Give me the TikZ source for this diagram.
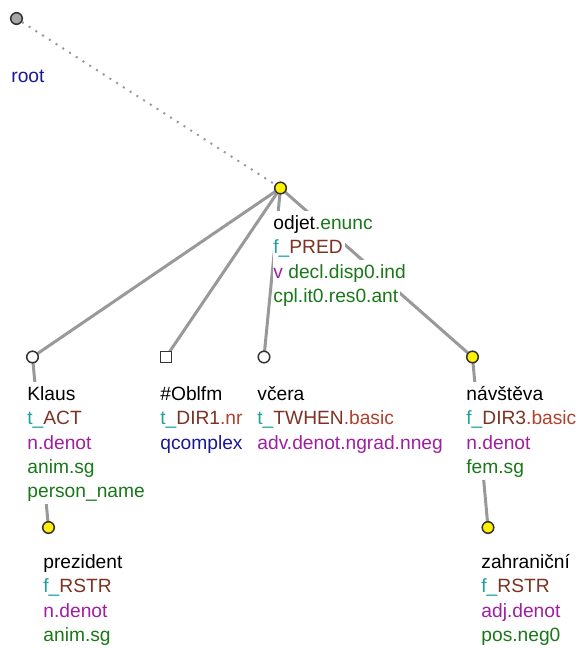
\documentclass[tikz,border=0pt]{standalone}
\usepackage{fontspec}
\setmainfont{Liberation Sans}
\usepackage{xcolor}
\usepackage{tikz}
\usetikzlibrary{shapes,positioning,backgrounds}

\definecolor{cteal}{RGB}{30,160,160}
\definecolor{cbrown}{RGB}{125,50,35}
\definecolor{cred}{RGB}{175,65,45}
\definecolor{cpurple}{RGB}{160,30,160}
\definecolor{cgreen}{RGB}{25,120,25}
\definecolor{cnavy}{RGB}{25,25,150}

% one line of a node label, white behind it
\newcommand{\row}[1]{{\setlength{\fboxsep}{0pt}\colorbox{white}{\rule[-3.3pt]{0pt}{12.2pt}#1\kern1pt}}}
\newcommand{\fnc}[3]{\textcolor{cteal}{#1\_}\textcolor{cbrown}{#2}\textcolor{cred}{#3}}

\begin{document}
\begin{tikzpicture}[
    x=0.5pt, y=-0.5pt,
    tnode/.style={circle, draw=black!80, fill=white, line width=0.75pt, inner sep=0pt, minimum size=5.8pt},
    anode/.style={tnode, fill=yellow},
    rnode/.style={tnode, fill=black!35},
    snode/.style={rectangle, draw=black!80, fill=white, line width=0.75pt, inner sep=0pt, minimum size=5.6pt},
    lbl/.style={anchor=north west, inner sep=0pt, align=left, font=\fontsize{9.6}{12.2}\selectfont},
    dep/.style={draw=black!40, line width=1.5pt},
    rootdep/.style={draw=black!40, line width=1pt, dash pattern=on 1pt off 3pt}
]
    \useasboundingbox (0,0) rectangle (578,648);

    % Root
    \node [rnode] (root) at (16.5,18.5) {};
    \node [lbl] (rootlbl) at (11,64) {\row{\textcolor{cnavy}{root}}};

    % Predicate
    \node [anode] (odjet) at (280.5,188) {};
    \node [lbl] (odjetlbl) at (273,211) {\row{odjet\textcolor{cgreen}{.enunc}} \\
        \row{\fnc{f}{PRED}{}} \\
        \row{\textcolor{cpurple}{v} \textcolor{cgreen}{decl.disp0.ind}} \\
        \row{\textcolor{cgreen}{cpl.it0.res0.ant}}};

    % Dependents
    \node [tnode] (klaus) at (32.5,357) {};
    \node [lbl] (klauslbl) at (27,382) {\row{Klaus} \\
        \row{\fnc{t}{ACT}{}} \\
        \row{\textcolor{cpurple}{n.denot}} \\
        \row{\textcolor{cgreen}{anim.sg}} \\
        \row{\textcolor{cgreen}{person\_name}}};

    \node [snode] (oblfm) at (166,357) {};
    \node [lbl] (oblfmlbl) at (160,382) {\row{\#Oblfm} \\
        \row{\fnc{t}{DIR1}{.nr}} \\
        \row{\textcolor{cnavy}{qcomplex}}};

    \node [tnode] (vcera) at (264,357) {};
    \node [lbl] (vceralbl) at (257,382) {\row{včera} \\
        \row{\fnc{t}{TWHEN}{.basic}} \\
        \row{\textcolor{cpurple}{adv.denot.ngrad.nneg}}};

    \node [anode] (navsteva) at (472.5,357) {};
    \node [lbl] (navstevalbl) at (466,382) {\row{návštěva} \\
        \row{\fnc{f}{DIR3}{.basic}} \\
        \row{\textcolor{cpurple}{n.denot}} \\
        \row{\textcolor{cgreen}{fem.sg}}};

    % Second level
    \node [anode] (prezident) at (48.5,527.5) {};
    \node [lbl] (prezidentlbl) at (43,550) {\row{prezident} \\
        \row{\fnc{f}{RSTR}{}} \\
        \row{\textcolor{cpurple}{n.denot}} \\
        \row{\textcolor{cgreen}{anim.sg}}};

    \node [anode] (zahranicni) at (488,527.5) {};
    \node [lbl] (zahranicnilbl) at (481,550) {\row{zahraniční} \\
        \row{\fnc{f}{RSTR}{}} \\
        \row{\textcolor{cpurple}{adj.denot}} \\
        \row{\textcolor{cgreen}{pos.neg0}}};

    % Edges
    \begin{scope}[on background layer]
        \path [rootdep] (root) -- (odjet);
        \path [dep] (odjet.center) -- (klaus.center);
        \path [dep] (odjet.center) -- (oblfm.center);
        \path [dep] (odjet.center) -- (vcera.center);
        \path [dep] (odjet.center) -- (navsteva.center);
        \path [dep] (klaus.center) -- (prezident.center);
        \path [dep] (navsteva.center) -- (zahranicni.center);
    \end{scope}

\end{tikzpicture}
\end{document}
